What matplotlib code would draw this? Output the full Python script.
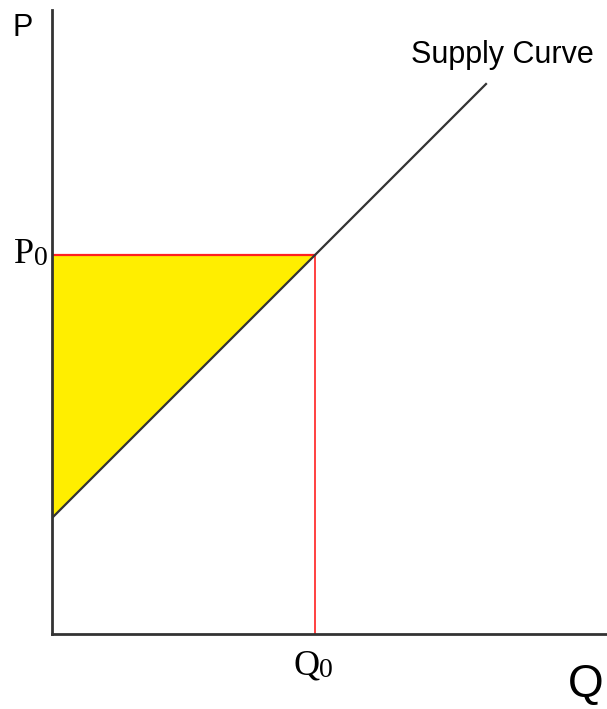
import numpy as np
import matplotlib
matplotlib.use("Agg")
import matplotlib.pyplot as plt

# supply curve and equilibrium point (arbitrary units)
supply_q = [0.0, 8.68]
supply_p = [2.32, 11.0]
q0 = 5.26
p0 = 7.58

sans = ['Liberation Sans', 'DejaVu Sans']
serif = ['Liberation Serif', 'DejaVu Serif']

fig = plt.figure(figsize=(6.07, 7.09), dpi=100)
ax = fig.add_axes([52/607, 75/709, 555/607, 624/709])
ax.set_xlim(0, 11.1)
ax.set_ylim(0, 12.48)

# producer surplus triangle
ax.fill([0, q0, 0], [p0, p0, supply_p[0]], color='#ffee00', lw=0, zorder=1)
ax.plot(supply_q, supply_p, color='#333333', lw=1.6, zorder=3)
ax.plot([0, q0], [p0, p0], color='#ff2020', lw=1.6, zorder=2)
ax.plot([q0, q0], [0, p0], color='#ff2020', lw=1.2, zorder=2)

for s in ['top', 'right']:
    ax.spines[s].set_visible(False)
for s in ['left', 'bottom']:
    ax.spines[s].set_color('#333333')
    ax.spines[s].set_linewidth(2)
ax.set_xticks([])
ax.set_yticks([])

ax.text(-0.58, 12.12, 'P', family=sans, fontsize=22, ha='center', va='center', clip_on=False)
ax.text(9.0, 11.58, 'Supply Curve', family=sans, fontsize=22, ha='center', va='center')

# P0 label, right edge just left of the axis
z = ax.text(-0.08, 7.26, '0', family=serif, fontsize=20, ha='right', va='bottom', clip_on=False)
ax.annotate('P', xy=(0, 0), xycoords=z, family=serif, fontsize=26, ha='right', va='bottom',
            annotation_clip=False)

# Q0 label
q = ax.text(4.82, -0.98, 'Q', family=serif, fontsize=26, ha='left', va='bottom', clip_on=False)
ax.annotate('0', xy=(1, 0), xycoords=q, family=serif, fontsize=20, ha='left', va='bottom',
            annotation_clip=False)

ax.text(10.68, -1.26, 'Q', family=sans, fontsize=33, ha='center', va='baseline', clip_on=False)

fig.savefig('out.png', dpi=100)
